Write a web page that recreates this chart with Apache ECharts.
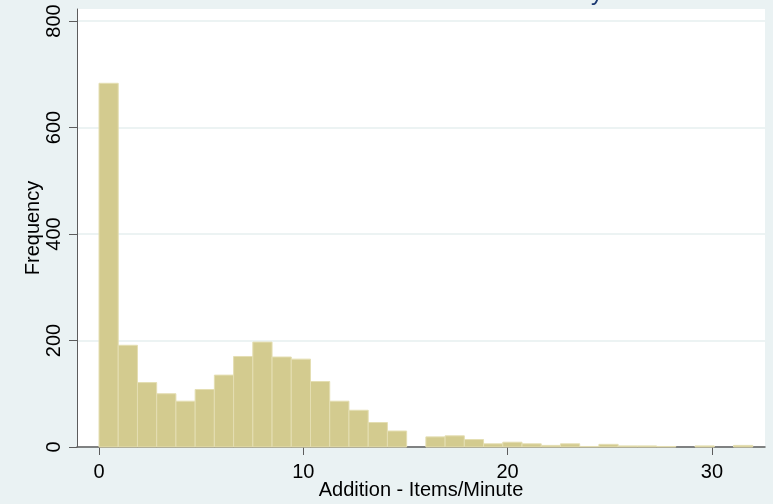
<!DOCTYPE html>
<html>
<head>
<meta charset="utf-8">
<script src="https://cdn.jsdelivr.net/npm/echarts@6/dist/echarts.min.js"></script>
<style>
  html, body { margin: 0; padding: 0; background: #eaf2f3; }
  #chart { width: 773px; height: 504px; }
</style>
</head>
<body>
<div id="chart"></div>
<script>
// Histogram of addition fluency (items per minute), 34 equal-width bins over 0–32
const binStart = 0;
const binWidth = 32 / 34;
const frequencies = [
  683, 191, 121, 100, 86, 108, 135, 170, 197, 169,
  165, 123, 86, 69, 46, 30, 0, 19, 21, 14,
  6, 9, 6, 3, 6, 1, 5, 2, 2, 1,
  0, 2, 0, 3
];
const xTicks = [0, 10, 20, 30];
const yTicks = [0, 200, 400, 600, 800];

const bars = frequencies.map((f, i) => [
  binStart + i * binWidth,
  binStart + (i + 1) * binWidth,
  f
]);

const chart = echarts.init(document.getElementById('chart'), null, { renderer: 'canvas' });
const fontFamily = '"Liberation Sans", Arial, sans-serif';
const axisColor = '#5c5c5c';

chart.setOption({
  backgroundColor: '#eaf2f3',
  animation: false,
  grid: {
    left: 77, right: 8, top: 9, bottom: 57,
    outerBoundsMode: 'none',
    containLabel: false,
    show: true, backgroundColor: '#ffffff', borderWidth: 0
  },
  xAxis: {
    type: 'value',
    min: -1.077,
    max: 32.6,
    name: 'Addition - Items/Minute',
    nameLocation: 'middle',
    nameGap: 33,
    nameMoveOverlap: false,
    nameTextStyle: { fontFamily, fontSize: 20, color: '#000', verticalAlign: 'top' },
    axisLine: { show: true, onZero: false, lineStyle: { color: axisColor, width: 1.5 } },
    axisTick: { show: true, length: 8, lineStyle: { color: axisColor, width: 1 }, customValues: xTicks },
    axisLabel: { fontFamily, fontSize: 20, color: '#000', margin: 15, customValues: xTicks },
    splitLine: { show: false }
  },
  yAxis: {
    type: 'value',
    min: 0,
    max: 822.5,
    interval: 200,
    name: 'Frequency',
    nameLocation: 'middle',
    nameRotate: 90,
    nameGap: 34,
    nameMoveOverlap: false,
    nameTextStyle: { fontFamily, fontSize: 20, color: '#000' },
    axisLine: { show: true, onZero: false, lineStyle: { color: axisColor, width: 1 } },
    axisTick: { show: true, length: 8, lineStyle: { color: axisColor, width: 1 }, customValues: yTicks },
    axisLabel: { fontFamily, fontSize: 20, color: '#000', rotate: 90, margin: 13, customValues: yTicks },
    splitLine: { show: true, lineStyle: { color: '#e6efef', width: 1.5 } }
  },
  graphic: [{
    // chart title, set mostly above the top edge
    type: 'text',
    left: 591,
    top: -19,
    silent: true,
    style: { text: 'y', fontFamily, fontSize: 24, fill: '#1d3a72' }
  }],
  series: [{
    type: 'custom',
    data: bars,
    encode: { x: [0, 1], y: 2 },
    renderItem: function (params, api) {
      const x0 = api.value(0), x1 = api.value(1), f = api.value(2);
      if (!f) return null;
      const topLeft = api.coord([x0, f]);
      const bottomRight = api.coord([x1, 0]);
      return {
        type: 'rect',
        shape: {
          x: topLeft[0],
          y: topLeft[1],
          width: bottomRight[0] - topLeft[0],
          height: bottomRight[1] - topLeft[1]
        },
        style: { fill: '#d3cb8f', stroke: '#e4deb2', lineWidth: 1 }
      };
    }
  }]
});
</script>
</body>
</html>
